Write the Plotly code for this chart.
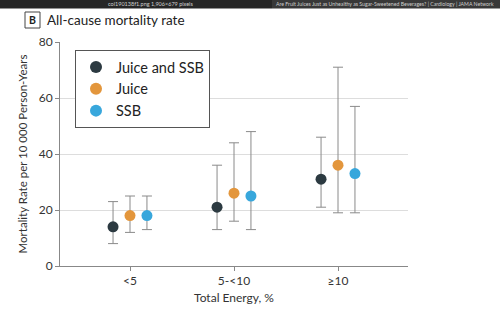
import plotly.graph_objects as go

categories = ["<5", "5-<10", "≥10"]
series_names = ["Juice and SSB", "Juice", "SSB"]
series_colors = ["#2c3a41", "#e3963c", "#38a7dc"]

juice_ssb_rate = [14, 21, 31]
juice_ssb_low = [8, 13, 21]
juice_ssb_high = [23, 36, 46]

juice_rate = [18, 26, 36]
juice_low = [12, 16, 19]
juice_high = [25, 44, 71]

ssb_rate = [18, 25, 33]
ssb_low = [13, 13, 19]
ssb_high = [25, 48, 57]

rates = [juice_ssb_rate, juice_rate, ssb_rate]
lows = [juice_ssb_low, juice_low, ssb_low]
highs = [juice_ssb_high, juice_high, ssb_high]
offsets = [-0.163, 0.0, 0.163]

FONT = "Lato"
W, H = 500, 334
ML, MR, MT, MB = 60, 92, 42, 68
PW, PH = W - ML - MR, H - MT - MB


def px_x(px):
    """Pixel column -> paper x."""
    return (px - ML) / PW


def px_y(py):
    """Pixel row (from top) -> paper y."""
    return (H - MB - py) / PH


fig = go.Figure()

for name, color, r, lo, hi, off in zip(series_names, series_colors, rates, lows, highs, offsets):
    xs = [i + off for i in range(len(categories))]
    fig.add_trace(go.Scatter(
        x=xs, y=r, mode="markers", name=name,
        marker=dict(color=color, size=11, line=dict(width=0)),
        error_y=dict(type="data", symmetric=False,
                     array=[h - v for h, v in zip(hi, r)],
                     arrayminus=[v - l for v, l in zip(r, lo)],
                     color="#8a8a8a", thickness=1, width=5),
    ))

fig.update_layout(
    width=W, height=H,
    margin=dict(l=ML, r=MR, t=MT, b=MB),
    paper_bgcolor="white", plot_bgcolor="white",
    font=dict(family=FONT, color="#333333"),
    showlegend=True,
    legend=dict(x=px_x(75), y=px_y(50), xanchor="left", yanchor="top",
                bgcolor="white", bordercolor="#555555", borderwidth=1,
                font=dict(family=FONT, size=14.5, color="#222222"),
                itemsizing="constant", tracegroupgap=0),
    xaxis=dict(range=[-0.673, 2.673], tickvals=[0, 1, 2], ticktext=categories,
               showgrid=False, zeroline=False, showline=True, linecolor="#888888",
               linewidth=1, ticks="outside", ticklen=4, tickcolor="#888888",
               tickfont=dict(size=12, color="#333333"),
               title=dict(text="Total Energy, %", font=dict(size=12, color="#333333"), standoff=6)),
    yaxis=dict(range=[0, 80], tickvals=[0, 20, 40, 60, 80],
               showgrid=True, gridcolor="#dddddd", gridwidth=1, zeroline=False,
               showline=True, linecolor="#888888", linewidth=1,
               ticks="outside", ticklen=4, tickcolor="#888888",
               tickfont=dict(size=12, color="#333333"),
               title=dict(text="Mortality Rate per 10 000 Person-Years",
                          font=dict(size=11.5, color="#333333"), standoff=8)),
)

# Browser header strip
fig.add_shape(type="rect", xref="paper", yref="paper", x0=px_x(-5), x1=px_x(272),
              y0=px_y(8.5), y1=px_y(-5), fillcolor="#262626", line=dict(width=0), layer="above")
fig.add_shape(type="rect", xref="paper", yref="paper", x0=px_x(272), x1=px_x(505),
              y0=px_y(8.5), y1=px_y(-5), fillcolor="#383838", line=dict(width=0), layer="above")
fig.add_annotation(text="coi190138f1.png 1,906×679 pixels", xref="paper", yref="paper",
                   x=px_x(150), y=px_y(4.3), xanchor="center", yanchor="middle", showarrow=False,
                   font=dict(size=5.5, color="#cfcfcf", family=FONT))
fig.add_annotation(text="Are Fruit Juices Just as Unhealthy as Sugar-Sweetened Beverages? | Cardiology | JAMA Network",
                   xref="paper", yref="paper", x=px_x(385), y=px_y(4.3), xanchor="center", yanchor="middle",
                   showarrow=False, font=dict(size=5.2, color="#cfcfcf", family=FONT))

# Panel heading
fig.add_shape(type="rect", xref="paper", yref="paper",
              x0=px_x(25), x1=px_x(40), y0=px_y(28), y1=px_y(12),
              line=dict(color="#444444", width=1), fillcolor="white")
fig.add_annotation(text="<b>B</b>", xref="paper", yref="paper",
                   x=px_x(32.5), y=px_y(20), xanchor="center", yanchor="middle", showarrow=False,
                   font=dict(size=10.5, color="#222222", family=FONT))
fig.add_annotation(text="All-cause mortality rate", xref="paper", yref="paper",
                   x=px_x(45), y=px_y(20), xanchor="left", yanchor="middle", showarrow=False,
                   font=dict(size=13.5, color="#222222", family=FONT))

fig.write_html("out.html")
